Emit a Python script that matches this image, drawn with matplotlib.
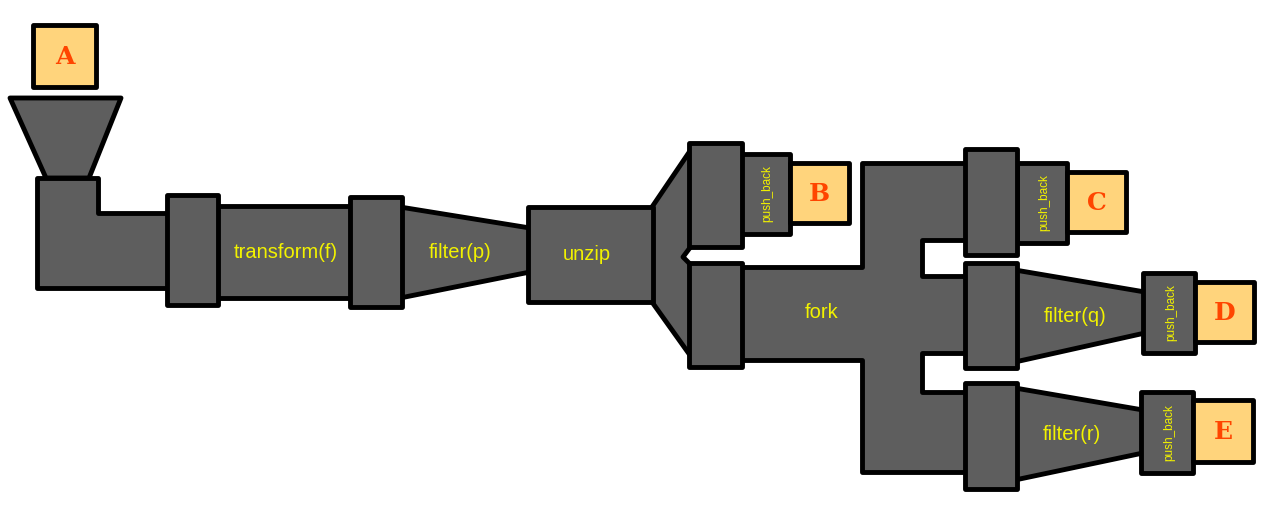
import matplotlib
matplotlib.use("Agg")
import matplotlib.pyplot as plt
from matplotlib.patches import Polygon

W, H = 1280, 505
GRAY = "#5e5e5e"
BOX = "#ffd47c"
LETTER = "#ff4500"
YEL = "#f2f200"
LW = 3.5

# shapes in pixel coordinates (x, y with y downward)
hopper = [(10, 98), (121, 98), (89, 178), (46, 178)]
elbow = [(37, 178), (98, 178), (98, 213), (170, 213), (170, 288), (37, 288)]
pipe_transform = [(215, 206), (355, 206), (355, 298), (215, 298)]
funnel_p = [(400, 207), (530, 228), (530, 272), (400, 298)]
splitter = [(652, 207), (692, 148), (692, 245), (683, 257), (692, 266),
            (692, 358), (652, 302)]
fork = [(740, 267), (862, 267), (862, 163), (968, 163), (968, 240), (922, 240),
        (922, 276), (968, 276), (968, 353), (922, 353), (922, 392), (968, 392),
        (968, 472), (862, 472), (862, 360), (740, 360)]
funnel_q = [(1015, 270), (1145, 292), (1145, 333), (1015, 362)]
funnel_r = [(1015, 388), (1143, 410), (1143, 453), (1015, 480)]

# rectangles: (x0, y0, x1, y1)
collars = [(167, 195, 218, 305), (350, 197, 402, 307), (528, 207, 653, 302),
           (689, 143, 742, 247), (689, 263, 742, 367),
           (965, 149, 1017, 255), (965, 263, 1017, 368), (965, 383, 1017, 489)]
push_backs = [(740, 154, 790, 234), (1017, 163, 1067, 243),
              (1143, 273, 1195, 353), (1141, 392, 1193, 473)]
boxes = [(33, 25, 96, 87), (790, 163, 849, 223), (1067, 172, 1126, 232),
         (1195, 282, 1254, 342), (1193, 400, 1253, 462)]
box_letters = ["A", "B", "C", "D", "E"]

labels = ["transform(f)", "filter(p)", "unzip", "fork", "filter(q)", "filter(r)"]
label_pos = [(286, 252), (460, 252), (587, 255), (822, 312), (1075, 316), (1072, 435)]

fig = plt.figure(figsize=(W / 100, H / 100), dpi=100)
ax = fig.add_axes([0, 0, 1, 1])
ax.set_xlim(0, W)
ax.set_ylim(H, 0)
ax.axis("off")


def poly(pts, fc=GRAY, z=1):
    ax.add_patch(Polygon(pts, closed=True, fc=fc, ec="black", lw=LW,
                         joinstyle="round", zorder=z))


def rect(r, fc=GRAY, z=3):
    x0, y0, x1, y1 = r
    poly([(x0, y0), (x1, y0), (x1, y1), (x0, y1)], fc=fc, z=z)


for shape in [hopper, elbow, pipe_transform, funnel_p, splitter, fork,
              funnel_q, funnel_r]:
    poly(shape, z=1)

for r in collars:
    rect(r, z=3)
for r in push_backs:
    rect(r, z=2)
for r in boxes:
    rect(r, fc=BOX, z=2)

for r, t in zip(boxes, box_letters):
    ax.text((r[0] + r[2]) / 2, (r[1] + r[3]) / 2 + 1, t, color=LETTER,
            fontsize=18, fontweight="bold", family="DejaVu Serif",
            ha="center", va="center", zorder=5)

for r in push_backs:
    ax.text((r[0] + r[2]) / 2 + 2, (r[1] + r[3]) / 2, "push_back", color=YEL,
            fontsize=8.5, family="Liberation Sans", rotation=90,
            ha="center", va="center", zorder=5)

for (x, y), t in zip(label_pos, labels):
    ax.text(x, y, t, color=YEL, fontsize=14.5, family="Liberation Sans",
            ha="center", va="center", zorder=5)

fig.savefig("out.png", dpi=100, facecolor="white")
